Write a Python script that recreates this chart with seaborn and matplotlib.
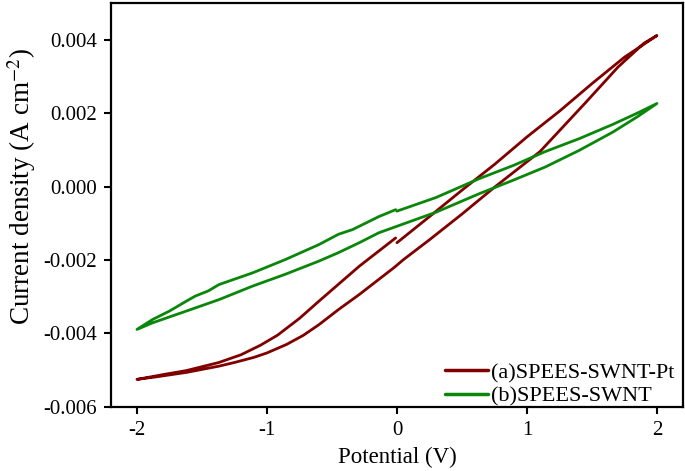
import matplotlib
matplotlib.use("Agg")
import matplotlib.pyplot as plt
import seaborn as sns
import pandas as pd
from matplotlib.ticker import FormatStrFormatter

# ---------------------------------------------------------
# DATA (sweep order 0 -> 2 -> -2 -> 0 V)
# ---------------------------------------------------------

# (a) SPEES-SWNT-Pt
pt_fwd_v = [0.0, 0.25, 0.5, 0.75, 1.0, 1.25, 1.5, 1.75, 2.0]
pt_fwd_j = [-0.00153, -0.00082, -0.00010, 0.00060, 0.00135, 0.00205, 0.00280, 0.00352, 0.00411]
pt_rev_v = [1.9, 1.7, 1.45, 1.1, 0.75, 0.5, 0.25, 0.05, -0.02, -0.29, -0.45, -0.6,
            -0.72, -0.85, -1.0, -1.1, -1.25, -1.37, -1.62, -1.85, -2.0]
pt_rev_j = [0.00390, 0.00325, 0.00228, 0.00095, -0.00002, -0.00075, -0.00145, -0.00199,
            -0.00220, -0.00294, -0.00335, -0.00376, -0.00405, -0.00430, -0.00453,
            -0.00465, -0.00479, -0.00489, -0.00506, -0.00518, -0.00525]
pt_ret_v = [-1.8, -1.62, -1.37, -1.2, -1.05, -0.92, -0.75, -0.6, -0.29, -0.01]
pt_ret_j = [-0.00512, -0.00501, -0.00479, -0.00458, -0.00432, -0.00405, -0.00359,
            -0.00312, -0.00217, -0.00140]

# (b) SPEES-SWNT
sw_fwd_v = [0.0, 0.3, 0.63, 0.9, 1.14, 1.4, 1.66, 1.85, 2.0]
sw_fwd_j = [-0.00067, -0.00030, 0.00021, 0.00058, 0.00095, 0.00130, 0.00169, 0.00200, 0.00226]
sw_rev_v = [1.85, 1.66, 1.4, 1.14, 0.9, 0.63, 0.3, -0.14, -0.29, -0.45, -0.6, -0.86,
            -1.11, -1.37, -1.62, -1.88, -2.0]
sw_rev_j = [0.00190, 0.00148, 0.00098, 0.00053, 0.00018, -0.00020, -0.00070, -0.00126,
            -0.00153, -0.00180, -0.00203, -0.00239, -0.00271, -0.00308, -0.00339,
            -0.00371, -0.00389]
sw_ret_v = [-1.88, -1.75, -1.62, -1.55, -1.45, -1.37, -1.11, -0.86, -0.6, -0.45, -0.34,
            -0.14, -0.01]
sw_ret_j = [-0.00362, -0.00339, -0.00312, -0.00298, -0.00284, -0.00267, -0.00235,
            -0.00199, -0.00158, -0.00130, -0.00117, -0.00082, -0.00063]

labels = ["(a)SPEES-SWNT-Pt", "(b)SPEES-SWNT"]
colors = ["#800000", "#0a870a"]

x_ticks = [-2, -1, 0, 1, 2]
y_ticks = [-0.006, -0.004, -0.002, 0.000, 0.002, 0.004]

frames = []
for lab, vs, js in [
    (labels[0], pt_fwd_v + pt_rev_v + pt_ret_v, pt_fwd_j + pt_rev_j + pt_ret_j),
    (labels[1], sw_fwd_v + sw_rev_v + sw_ret_v, sw_fwd_j + sw_rev_j + sw_ret_j),
]:
    frames.append(pd.DataFrame({"Potential": vs, "Current": js, "Sample": lab}))
df = pd.concat(frames, ignore_index=True)

# ---------------------------------------------------------
# PLOTTING
# ---------------------------------------------------------
sns.set_theme(style="ticks")
plt.rcParams["font.family"] = ["Liberation Serif", "DejaVu Serif"]
plt.rcParams["mathtext.fontset"] = "stix"
plt.rcParams["axes.unicode_minus"] = False
plt.rcParams["text.color"] = "black"
plt.rcParams["axes.labelcolor"] = "black"

fig = plt.figure(figsize=(6.85, 4.71), dpi=100)
ax = fig.add_axes([0.162, 0.136, 0.835, 0.858])

sns.lineplot(data=df, x="Potential", y="Current", hue="Sample", palette=colors,
             sort=False, estimator=None, linewidth=2.0, ax=ax)

ax.set_xlim(-2.2, 2.2)
ax.set_ylim(-0.006, 0.005)
ax.set_xticks(x_ticks)
ax.set_yticks(y_ticks)
ax.yaxis.set_major_formatter(FormatStrFormatter("%.3f"))
ax.tick_params(axis="both", direction="out", length=5, width=1.5, labelsize=15,
               colors="black", pad=5)
for sp in ax.spines.values():
    sp.set_linewidth(1.6)
    sp.set_color("black")

ax.set_xlabel("Potential (V)", fontsize=16.5, labelpad=5)
ax.set_ylabel("Current density (A cm$^{-2}$)", fontsize=19.5)
ax.yaxis.set_label_coords(-0.128, 0.545)

leg = ax.legend(loc="lower right", bbox_to_anchor=(0.985, 0.0), frameon=False,
                fontsize=16, handlelength=1.9, handletextpad=0.15,
                labelspacing=0.15, borderpad=0.0, borderaxespad=0.0)
for line in leg.get_lines():
    line.set_linewidth(2.5)

plt.savefig("out.png", dpi=100)
